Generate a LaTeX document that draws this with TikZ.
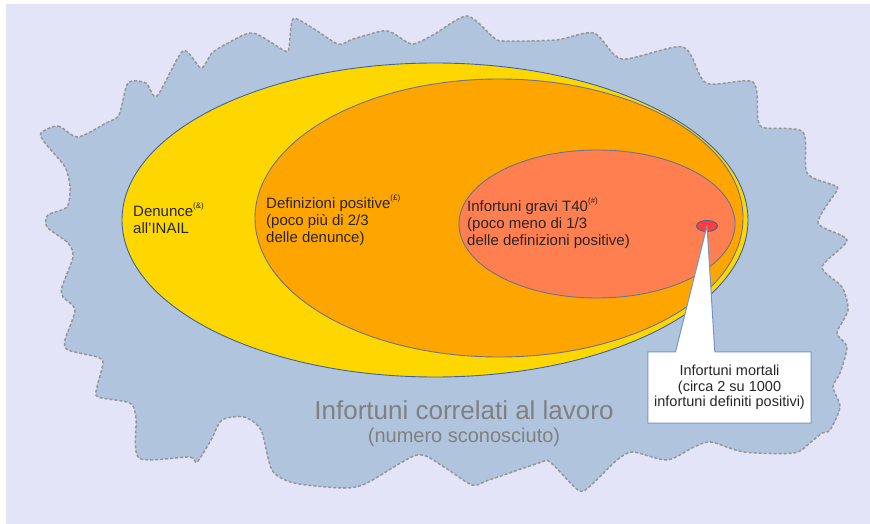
\documentclass[tikz,border=0pt]{standalone}
\usepackage{fontspec}
\setmainfont{Liberation Sans}
\usepackage{tikz}
\usetikzlibrary{shapes.geometric, calc}
\pgfdeclarelayer{foreground}
\pgfsetlayers{main,foreground}
\definecolor{backdrop}{RGB}{228,228,248}
\definecolor{cloudfill}{RGB}{176,196,222}
\definecolor{cloudline}{RGB}{150,150,150}
\definecolor{reportfill}{RGB}{255,215,0}
\definecolor{positivefill}{RGB}{255,165,0}
\definecolor{severefill}{RGB}{255,127,80}
\definecolor{fatalfill}{RGB}{255,60,60}
\definecolor{rim}{RGB}{60,100,165}
\definecolor{softrim}{RGB}{105,115,145}
\definecolor{calloutline}{RGB}{114,150,200}
\definecolor{greytext}{RGB}{128,128,128}
\newcommand{\supmark}[1]{\raisebox{0.5em}{\fontsize{8}{8}\selectfont #1}}
\tikzset{
    zone/.style={ellipse, draw=#1, line width=0.9pt, inner sep=0pt},
    tag/.style={font=\fontsize{15}{17}\selectfont, align=left, anchor=base west,
        inner sep=0pt, text=black!85},
    callbox/.style={minimum width=163pt, minimum height=71pt, inner sep=0pt,
        align=center, font=\fontsize{14.5}{15.6}\selectfont, text=black!85},
    unknown/.style={fill=cloudfill, draw=cloudline, line width=1.5pt,
        dash pattern=on 3pt off 2pt},
}

\begin{document}
\begin{tikzpicture}[x=1pt, y=-1pt]
    \useasboundingbox (0,0) rectangle (870,524);
    \fill[backdrop] (6,4) rectangle (870,524);

    % unknown total: the dashed cloud
    \draw[unknown] plot[smooth cycle, tension=0.45] coordinates {
        (41,133) (58,126) (78,137) (106,123) (119,115) (128,83) (146,83)
        (157,96) (183,51) (201,68) (212,53) (228,43) (253,33) (285,51)
        (289,47) (293,19) (311,27) (338,44) (353,39) (382,31) (393,33)
        (412,44) (433,35) (467,16) (493,37) (503,41) (556,40) (594,33)
        (622,59) (683,47) (706,83) (753,82)
        (758,120) (765,128) (803,132) (807,173) (833,185) (837,190)
        (818,223) (847,240) (822,267) (842,287) (848,310) (837,333)
        (847,347) (840,373) (833,387) (840,407) (830,430) (822,433)
        (811,442) (794,453) (744,452) (711,442) (694,447) (667,460)
        (633,452) (617,460) (589,487) (578,490) (550,462) (539,463)
        (489,480) (472,485) (444,467) (417,455) (367,483) (344,488)
        (294,483) (272,470) (261,430) (244,417) (222,420) (211,440)
        (197,462) (189,457) (139,458) (136,418) (130,403) (98,397)
        (97,387) (103,363) (97,357) (68,350) (65,340) (75,310) (63,297)
        (62,287) (73,257) (68,243) (47,227) (48,215) (67,207) (70,187)
        (65,167) (45,143)};

    \node[zone=rim, fill=reportfill, minimum width=626pt, minimum height=314pt]
        (reports) at (435,220) {};
    \node[zone=softrim, fill=positivefill, minimum width=488pt, minimum height=278pt]
        (positives) at (499,218) {};
    \node[zone=softrim, fill=severefill, minimum width=276pt, minimum height=148pt]
        (severe) at (597,224) {};
    \node[zone=rim, fill=fatalfill, minimum width=21pt, minimum height=11pt]
        (fatal) at (707,226) {};

    % labels sit on the baseline of their last line
    \node[tag] (reportslabel) at (133,233) {Denunce\supmark{(\&)}\\all’INAIL};
    \node[tag] (positiveslabel) at (266,242)
        {Definizioni positive\supmark{(£)}\\(poco più di 2/3\\delle denunce)};
    \node[tag] (severelabel) at (467,245)
        {Infortuni gravi T40\supmark{(\#)}\\(poco meno di 1/3\\delle definizioni positive)};

    % callout for the fatal cases
    \begin{pgfonlayer}{foreground}
        \node[callbox] (fatallabel) at (729.5,387.5)
            {Infortuni mortali\\(circa 2 su 1000\\infortuni definiti positivi)};
    \end{pgfonlayer}
    \coordinate (baseleft) at ($(fatallabel.north west)!0.17!(fatallabel.north east)$);
    \coordinate (baseright) at ($(fatallabel.north west)!0.41!(fatallabel.north east)$);
    \draw[calloutline, fill=white, line width=1pt, line join=round]
        (fatallabel.north west) -- (baseleft) -- (fatal.center) -- (baseright)
        -- (fatallabel.north east) -- (fatallabel.south east)
        -- (fatallabel.south west) -- cycle;

    \node[font=\fontsize{26}{28}\selectfont, text=greytext, anchor=base] (totallabel)
        at (464,419) {Infortuni correlati al lavoro};
    \node[font=\fontsize{20}{22}\selectfont, text=greytext, anchor=base] (totalnote)
        at (464,442) {(numero sconosciuto)};
\end{tikzpicture}
\end{document}
